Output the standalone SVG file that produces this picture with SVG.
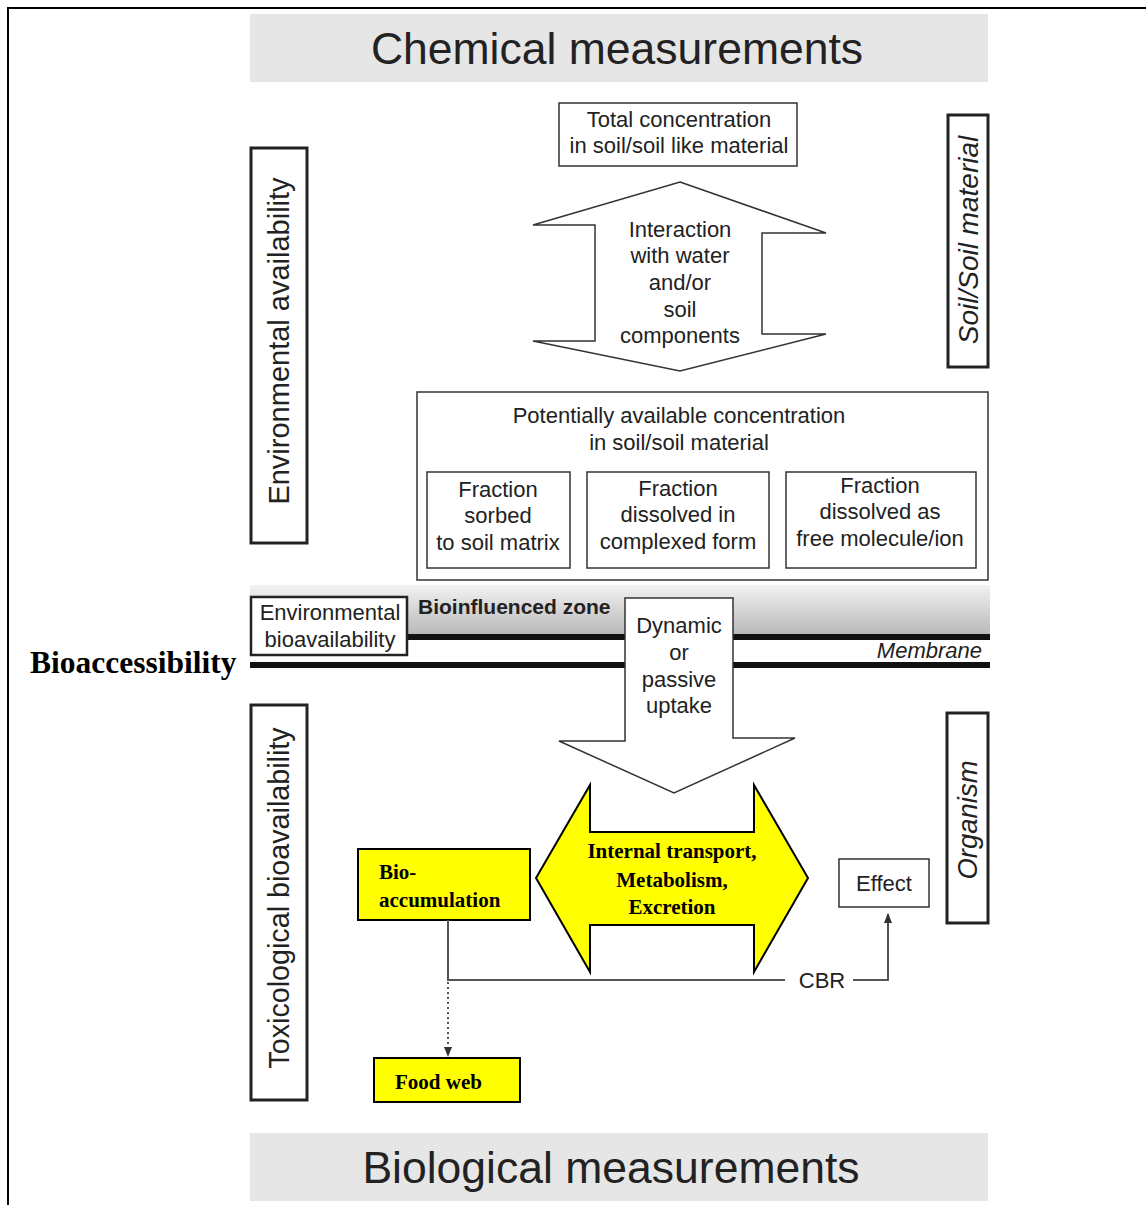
<svg xmlns="http://www.w3.org/2000/svg" width="1146" height="1205" viewBox="0 0 1146 1205">
<style>
.s{font-family:"Liberation Sans",Arial,sans-serif;fill:#222;font-size:22px;text-anchor:middle}
.b{font-family:"Liberation Serif","Times New Roman",serif;font-weight:bold;fill:#000}
.box{fill:#fff;stroke:#333;stroke-width:1.5}
.vbox{fill:#fff;stroke:#222;stroke-width:3}
.yel{fill:#ffff00;stroke:#000;stroke-width:2}
.hdr{fill:#e6e6e6}
.conn{fill:none;stroke:#555;stroke-width:2}
</style>
<defs>
<linearGradient id="zone" x1="0" y1="0" x2="0" y2="1">
<stop offset="0" stop-color="#f2f2f2"/>
<stop offset="1" stop-color="#b8b8b8"/>
</linearGradient>
<marker id="ah" markerWidth="10" markerHeight="10" refX="9" refY="5" orient="auto" markerUnits="userSpaceOnUse">
<path d="M0,1 L10,5 L0,9 Z" fill="#333"/>
</marker>
</defs>
<rect width="1146" height="1205" fill="#fff"/>
<path d="M8,1205 V8 H1146" fill="none" stroke="#000" stroke-width="2"/>

<g id="chemical-measurements">
<rect class="hdr" x="250" y="14" width="738" height="68"/>
<text class="s" x="617" y="64" style="font-size:44.5px">Chemical measurements</text>
</g>

<g id="total-concentration">
<rect class="box" x="559" y="103" width="238" height="63"/>
<text class="s" x="679" y="127">Total concentration</text>
<text class="s" x="679" y="153">in soil/soil like material</text>
</g>

<g id="interaction">
<path class="box" d="M680,182 L826,233 L762,233 L762,334 L826,334 L680,371 L533,341 L595,341 L595,225 L533,225 Z"/>
<text class="s" x="680" y="237">Interaction</text>
<text class="s" x="680" y="263">with water</text>
<text class="s" x="680" y="290">and/or</text>
<text class="s" x="680" y="317">soil</text>
<text class="s" x="680" y="343">components</text>
</g>

<g id="environmental-availability">
<rect class="vbox" x="251" y="148" width="56" height="395"/>
<text class="s" transform="translate(289,341) rotate(-90)" style="font-size:29px">Environmental availability</text>
</g>

<g id="soil-material">
<rect class="vbox" x="948" y="115" width="40" height="252"/>
<text class="s" transform="translate(978,240) rotate(-90)" style="font-size:28px;font-style:italic">Soil/Soil material</text>
</g>

<g id="potentially-available">
<rect class="box" x="417" y="392" width="571" height="188"/>
<text class="s" x="679" y="423">Potentially available concentration</text>
<text class="s" x="679" y="450">in soil/soil material</text>
</g>
<g id="fraction-sorbed">
<rect class="box" x="427" y="472" width="143" height="96"/>
<text class="s" x="498" y="497">Fraction</text>
<text class="s" x="498" y="523">sorbed</text>
<text class="s" x="498" y="550">to soil matrix</text>
</g>
<g id="fraction-complexed">
<rect class="box" x="587" y="472" width="182" height="96"/>
<text class="s" x="678" y="496">Fraction</text>
<text class="s" x="678" y="522">dissolved in</text>
<text class="s" x="678" y="549">complexed form</text>
</g>
<g id="fraction-free">
<rect class="box" x="786" y="472" width="190" height="96"/>
<text class="s" x="880" y="493">Fraction</text>
<text class="s" x="880" y="519">dissolved as</text>
<text class="s" x="880" y="546">free molecule/ion</text>
</g>

<g id="bioinfluenced-zone">
<rect x="250" y="585" width="740" height="50" fill="url(#zone)"/>
<rect x="250" y="634" width="740" height="6" fill="#111"/>
<rect x="250" y="662" width="740" height="6" fill="#111"/>
<text x="418" y="614" style="font-family:'Liberation Sans',Arial,sans-serif;font-weight:bold;font-size:21px;fill:#222">Bioinfluenced zone</text>
<text x="982" y="658" style="font-family:'Liberation Sans',Arial,sans-serif;font-style:italic;font-size:22px;fill:#222;text-anchor:end">Membrane</text>
</g>

<g id="bioaccessibility">
<text class="b" x="30" y="673" style="font-size:31.5px">Bioaccessibility</text>
</g>

<g id="environmental-bioavailability">
<rect x="251" y="597" width="156" height="58" fill="#fff" stroke="#222" stroke-width="2.5"/>
<text class="s" x="330" y="620">Environmental</text>
<text class="s" x="330" y="647">bioavailability</text>
</g>

<g id="uptake">
<path class="box" d="M625,598 L733,598 L733,738 L795,738 L674,793 L559,741 L625,741 Z"/>
<text class="s" x="679" y="633">Dynamic</text>
<text class="s" x="679" y="660">or</text>
<text class="s" x="679" y="687">passive</text>
<text class="s" x="679" y="713">uptake</text>
</g>

<g id="toxicological-bioavailability">
<rect class="vbox" x="251" y="705" width="56" height="395"/>
<text class="s" transform="translate(289,898) rotate(-90)" style="font-size:28.7px">Toxicological bioavailability</text>
</g>

<g id="organism">
<rect class="vbox" x="947" y="713" width="41" height="210"/>
<text class="s" transform="translate(977,820) rotate(-90)" style="font-size:27.5px;font-style:italic">Organism</text>
</g>

<g id="internal-transport">
<path class="yel" d="M536,878 L590,785 L590,832 L754,832 L754,785 L808,878 L754,972 L754,925 L590,925 L590,972 Z"/>
<text class="b" x="672" y="858" text-anchor="middle" style="font-size:21px">Internal transport,</text>
<text class="b" x="672" y="887" text-anchor="middle" style="font-size:21px">Metabolism,</text>
<text class="b" x="672" y="914" text-anchor="middle" style="font-size:21px">Excretion</text>
</g>

<g id="bioaccumulation">
<rect class="yel" x="358" y="849" width="172" height="71"/>
<text class="b" x="379" y="879" style="font-size:21px">Bio-</text>
<text class="b" x="379" y="907" style="font-size:21px">accumulation</text>
</g>

<g id="effect">
<rect class="box" x="839" y="859" width="90" height="48"/>
<text class="s" x="884" y="891">Effect</text>
</g>

<g id="food-web">
<rect class="yel" x="374" y="1058" width="146" height="44"/>
<text class="b" x="395" y="1089" style="font-size:21px">Food web</text>
</g>

<g id="connectors">
<path class="conn" d="M448,920 V980 H785"/>
<path class="conn" d="M853,980 H888 V914" marker-end="url(#ah)"/>
<text class="s" x="822" y="988">CBR</text>
<path class="conn" d="M448,982 V1056" stroke-dasharray="2,3" marker-end="url(#ah)"/>
</g>

<g id="biological-measurements">
<rect class="hdr" x="250" y="1133" width="738" height="68"/>
<text class="s" x="611" y="1183" style="font-size:44.5px">Biological measurements</text>
</g>
</svg>
